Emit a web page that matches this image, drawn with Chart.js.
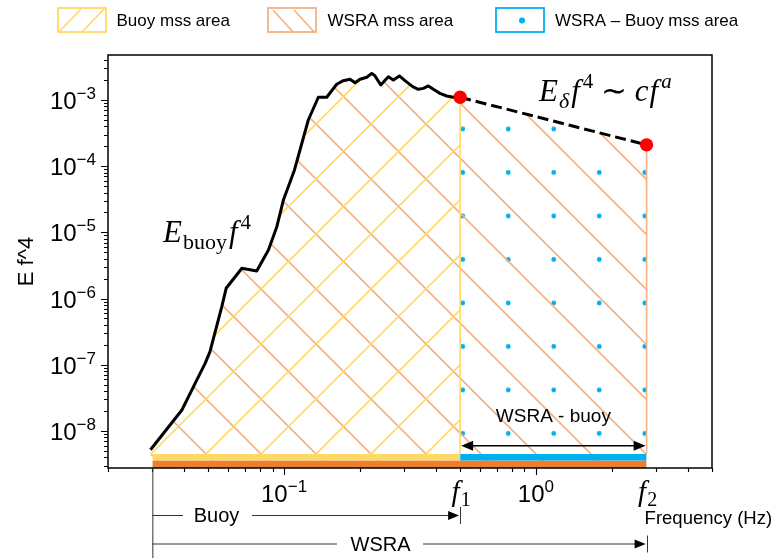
<!DOCTYPE html>
<html>
<head>
<meta charset="utf-8">
<script src="https://cdn.jsdelivr.net/npm/chart.js@4/dist/chart.umd.min.js"></script>
<style>
  html, body { margin: 0; padding: 0; background: #fff; }
  canvas { display: block; }
</style>
</head>
<body>
<canvas id="chart" width="779" height="558"></canvas>
<script>
// Buoy spectrum, E·f^4 against frequency (Hz)
const buoyFreq = [0.0295, 0.0393, 0.0437, 0.0486, 0.0508, 0.0566, 0.0589, 0.0680, 0.0779, 0.0867,
                  0.0936, 0.0994, 0.110, 0.1248, 0.1368, 0.1477, 0.1618, 0.1719, 0.1828, 0.1914,
                  0.2003, 0.2131, 0.2230, 0.2297, 0.2420, 0.2594, 0.2716, 0.2869, 0.3020, 0.3241,
                  0.3412, 0.3572, 0.3740, 0.3914, 0.4159, 0.4424, 0.4697, 0.5];
const buoyEf4 = [5.2e-9, 2.07e-8, 4.67e-8, 1.05e-7, 1.58e-7, 7.55e-7, 1.43e-6, 2.87e-6, 2.61e-6, 5.42e-6,
                 1.22e-5, 3.08e-5, 8.77e-5, 4.99e-4, 1.10e-3, 1.10e-3, 1.73e-3, 1.96e-3, 2.06e-3, 1.82e-3,
                 2.06e-3, 2.21e-3, 2.53e-3, 2.31e-3, 1.69e-3, 2.25e-3, 2.00e-3, 2.31e-3, 1.96e-3, 1.59e-3,
                 1.45e-3, 1.50e-3, 1.63e-3, 1.45e-3, 1.26e-3, 1.15e-3, 1.10e-3, 1.10e-3];
// power-law tail between f1 and f2
const tailFreq = [0.5, 2.75];
const tailEf4 = [1.1e-3, 2.1e-4];
// integration limits
const lowFreq = 0.03;
const limitNames = ['1', '2'];           // subscripts of f1, f2
// axis decades that carry labels
const xDecades = [-1, 0];
const yDecades = [-8, -7, -6, -5, -4, -3];
const legendNames = ['Buoy mss area', 'WSRA mss area', 'WSRA \u2013 Buoy mss area'];

// axis limits and band levels
const X_MIN = 0.02, X_MAX = 5;
const Y_MIN = Math.pow(10, -8.56), Y_MAX = Math.pow(10, -2.32);
const BAND_TOP = 4.5e-9, BAND_MID = 3.56e-9;

const YELLOW = '#FFD966', SALMON = '#F4B183', ORANGE = '#ED7D31', BLUE = '#00B0F0';
const SANS = "'Liberation Sans', Arial, Helvetica, sans-serif";
const SERIF = "'Liberation Serif', 'Times New Roman', serif";

const canvas = document.getElementById('chart');
const ctx = canvas.getContext('2d');

function hatch(color, dir, size, shift) {
  const c = document.createElement('canvas');
  c.width = size; c.height = size;
  const g = c.getContext('2d');
  g.strokeStyle = color; g.lineWidth = 1.6;
  g.beginPath();
  for (let k = -1; k <= 1; k++) {
    if (dir === '/') { g.moveTo(k * size - 2, size + 2); g.lineTo(k * size + size + 2, -2); }
    else { g.moveTo(k * size - 2, -2); g.lineTo(k * size + size + 2, size + 2); }
  }
  g.stroke();
  const p = ctx.createPattern(c, 'repeat');
  p.setTransform(new DOMMatrix().translate(shift, 0));
  return p;
}

function dots(color, sx, sy, ox, oy) {
  const c = document.createElement('canvas');
  c.width = Math.round(sx * 2); c.height = Math.round(sy * 2);
  const g = c.getContext('2d');
  g.fillStyle = color;
  for (const [cx, cy] of [[sx / 2, sy / 2], [sx * 1.5, sy / 2], [sx / 2, sy * 1.5], [sx * 1.5, sy * 1.5]]) {
    g.beginPath(); g.arc(cx, cy, 2.4, 0, Math.PI * 2); g.fill();
  }
  const p = ctx.createPattern(c, 'repeat');
  p.setTransform(new DOMMatrix().translate(ox - sx / 2, oy - sy / 2));
  return p;
}

const yellowHatch = hatch(YELLOW, '/', 55, 0);
const salmonHatch = hatch(SALMON, '\\', 55, 27);
const blueDots = dots(BLUE, 45.5, 43.5, 462.7, 129);

const pts = (xs, ys) => xs.map((v, i) => ({ x: v, y: ys[i] }));
const buoyPts = pts(buoyFreq, buoyEf4);
const tailPts = pts(tailFreq, tailEf4);
const f1 = tailFreq[0], f2 = tailFreq[1];

const base = { pointRadius: 0, borderWidth: 0, borderColor: 'rgba(0,0,0,0)', tension: 0 };

const datasets = [
  { ...base, label: 'end points', data: tailPts, showLine: false, pointRadius: 6.7,
    pointBackgroundColor: '#FF0000', pointBorderWidth: 0, order: 0 },
  { ...base, label: 'buoy', data: buoyPts, borderColor: '#000', borderWidth: 3,
    borderJoinStyle: 'round', order: 1 },
  { ...base, label: 'tail', data: tailPts, borderColor: '#000', borderWidth: 3,
    borderDash: [11, 5], order: 1 },
  { ...base, label: 'f1 edge', data: [{ x: f1, y: BAND_TOP }, { x: f1, y: tailEf4[0] }],
    borderColor: YELLOW, borderWidth: 1.6, order: 2 },
  { ...base, label: 'f2 edge', data: [{ x: f2, y: BAND_TOP }, { x: f2, y: tailEf4[1] }],
    borderColor: SALMON, borderWidth: 1.6, order: 2 },
  { ...base, label: 'buoy band', data: [{ x: lowFreq, y: BAND_TOP }, { x: f1, y: BAND_TOP }],
    fill: { value: BAND_MID }, backgroundColor: YELLOW, order: 3 },
  { ...base, label: 'gap band', data: [{ x: f1, y: BAND_TOP }, { x: f2, y: BAND_TOP }],
    fill: { value: BAND_MID }, backgroundColor: BLUE, order: 3 },
  { ...base, label: 'wsra band', data: [{ x: lowFreq, y: BAND_MID }, { x: f2, y: BAND_MID }],
    fill: 'start', backgroundColor: ORANGE, order: 3 },
  { ...base, label: legendNames[0], data: buoyPts, fill: 'start', backgroundColor: yellowHatch, order: 4 },
  { ...base, label: legendNames[1], data: buoyPts.concat([tailPts[1]]), fill: 'start',
    backgroundColor: salmonHatch, order: 5 },
  { ...base, label: legendNames[2], data: tailPts, fill: 'start', backgroundColor: blueDots, order: 6 }
];

function runs(c, x, y, parts) {
  for (const p of parts) {
    c.font = p.f;
    c.fillText(p.t, x, y + (p.dy || 0));
    x += c.measureText(p.t).width + (p.gap || 0);
  }
  return x;
}
function runsWidth(c, parts) {
  let w = 0;
  for (const p of parts) { c.font = p.f; w += c.measureText(p.t).width + (p.gap || 0); }
  return w;
}
function arrowHead(c, x, y, dir, len, half) {
  c.beginPath();
  c.moveTo(x, y);
  c.lineTo(x - dir * len, y - half);
  c.lineTo(x - dir * len, y + half);
  c.closePath();
  c.fill();
}

const decorations = {
  id: 'decorations',
  afterDatasetsDraw(chart) {
    const { ctx: c, chartArea: a, scales: { x, y } } = chart;
    const X = v => x.getPixelForValue(v), Y = v => y.getPixelForValue(v);
    c.save();
    c.fillStyle = '#000'; c.strokeStyle = '#000';

    // frame
    c.lineWidth = 1.5;
    c.strokeRect(a.left, a.top, a.right - a.left, a.bottom - a.top);

    // tick marks
    c.lineWidth = 1.1;
    c.beginPath();
    for (let d = -2; d <= 0; d++) for (let m = 1; m <= 9; m++) {
      const v = m * Math.pow(10, d);
      if (v < X_MIN * 0.999 || v > X_MAX * 1.001) continue;
      const px = Math.round(X(v)) + 0.5, len = m === 1 ? 7 : 4;
      c.moveTo(px, a.bottom); c.lineTo(px, a.bottom + len);
    }
    for (let d = -9; d <= -3; d++) for (let m = 1; m <= 9; m++) {
      const v = m * Math.pow(10, d);
      if (v < Y_MIN || v > Y_MAX) continue;
      const py = Math.round(Y(v)) + 0.5, len = m === 1 ? 7 : 4;
      c.moveTo(a.left, py); c.lineTo(a.left - len, py);
    }
    c.stroke();

    // decade labels
    const big = '24px ' + SANS, sup = '17px ' + SANS;
    c.textBaseline = 'alphabetic'; c.textAlign = 'left';
    for (const d of xDecades) {
      const parts = [{ t: '10', f: big }, { t: (d < 0 ? '\u2212' : '') + Math.abs(d), f: sup, dy: -10 }];
      const w = runsWidth(c, parts);
      runs(c, X(Math.pow(10, d)) - w / 2, a.bottom + 34, parts);
    }
    for (const d of yDecades) {
      const parts = [{ t: '10', f: big }, { t: '\u2212' + Math.abs(d), f: sup, dy: -10 }];
      const w = runsWidth(c, parts);
      runs(c, a.left - 12 - w, Y(Math.pow(10, d)) + 9, parts);
    }

    // f1, f2 labels
    [f1, f2].forEach((f, i) => {
      const parts = [{ t: 'f', f: 'italic 29px ' + SERIF, gap: 1 }, { t: limitNames[i], f: '20px ' + SERIF, dy: 5 }];
      const w = runsWidth(c, parts);
      runs(c, X(f) - w / 2 + 1, a.bottom + 33, parts);
    });

    // axis titles
    c.font = '18.5px ' + SANS;
    c.fillText('Frequency (Hz)', X(f2) - 2, a.bottom + 56);
    c.save();
    c.translate(27, (a.top + a.bottom) / 2);
    c.rotate(-Math.PI / 2);
    c.textAlign = 'center'; c.textBaseline = 'middle';
    c.font = '22px ' + SANS;
    c.fillText('E f^4', 0, 0);
    c.restore();

    // curve annotations
    runs(c, 163, 242, [
      { t: 'E', f: 'italic 31px ' + SERIF, gap: 1 },
      { t: 'buoy', f: '22px ' + SERIF, dy: 7, gap: 2 },
      { t: 'f', f: 'italic 31px ' + SERIF, gap: 3 },
      { t: '4', f: '21px ' + SERIF, dy: -13 }
    ]);
    runs(c, 539, 101, [
      { t: 'E', f: 'italic 31px ' + SERIF, gap: 1 },
      { t: '\u03B4', f: 'italic 22px ' + SERIF, dy: 7, gap: 2 },
      { t: 'f', f: 'italic 31px ' + SERIF, gap: 3 },
      { t: '4', f: '21px ' + SERIF, dy: -13 },
      { t: ' \u223C ', f: '31px ' + SERIF },
      { t: 'c', f: 'italic 31px ' + SERIF, gap: 1 },
      { t: 'f', f: 'italic 31px ' + SERIF, gap: 3 },
      { t: 'a', f: 'italic 21px ' + SERIF, dy: -13 }
    ]);

    // WSRA - buoy span
    const yA = 445.7;
    c.lineWidth = 1.5;
    c.beginPath(); c.moveTo(X(f1) + 8, yA); c.lineTo(X(f2) - 8, yA); c.stroke();
    arrowHead(c, X(f1) + 1, yA, -1, 12, 5);
    arrowHead(c, X(f2) - 1, yA, 1, 12, 5);
    c.font = '19px ' + SANS; c.textAlign = 'center';
    c.fillText('WSRA - buoy', (X(f1) + X(f2)) / 2, 421.5);

    // integration ranges below the axis
    const x0 = X(lowFreq);
    c.strokeStyle = '#333'; c.fillStyle = '#000'; c.lineWidth = 1;
    c.beginPath(); c.moveTo(x0 + 0.5, a.bottom); c.lineTo(x0 + 0.5, 558); c.stroke();
    const ranges = [
      { label: 'Buoy', end: X(f1), yy: 515, cx: 216.5, gap: [183, 252] },
      { label: 'WSRA', end: X(f2), yy: 543.5, cx: 380.5, gap: [337, 423] }
    ];
    for (const r of ranges) {
      c.beginPath();
      c.moveTo(x0, r.yy + 0.5); c.lineTo(r.gap[0], r.yy + 0.5);
      c.moveTo(r.gap[1], r.yy + 0.5); c.lineTo(r.end - 8, r.yy + 0.5);
      c.moveTo(Math.round(r.end) + 0.5, r.yy - 8); c.lineTo(Math.round(r.end) + 0.5, r.yy + 9);
      c.stroke();
      arrowHead(c, r.end - 1, r.yy + 0.5, 1, 11, 4.5);
      c.font = '20px ' + SANS; c.textAlign = 'center';
      c.fillText(r.label, r.cx, r.yy + 7);
    }
    c.textAlign = 'left';

    // legend
    const boxes = [58, 268, 496], texts = [116.5, 327.5, 555];
    const bw = 48, bh = 24, by = 8;
    c.font = '17px ' + SANS;
    boxes.forEach((bx, i) => {
      c.save();
      c.beginPath(); c.rect(bx, by, bw, bh); c.clip();
      c.lineWidth = 1.6;
      if (i === 0) {
        c.strokeStyle = YELLOW; c.beginPath();
        c.moveTo(bx + 1, by + bh); c.lineTo(bx + 24, by);
        c.moveTo(bx + 24, by + bh); c.lineTo(bx + 47, by);
        c.stroke();
      } else if (i === 1) {
        c.strokeStyle = SALMON; c.beginPath();
        c.moveTo(bx + 5, by + 2); c.lineTo(bx + 27, by + bh + 2);
        c.moveTo(bx + 26, by + 2); c.lineTo(bx + 48, by + bh + 2);
        c.stroke();
      } else {
        c.fillStyle = BLUE; c.beginPath();
        c.arc(bx + bw / 2 + 2, by + bh / 2 + 0.5, 3, 0, Math.PI * 2); c.fill();
      }
      c.restore();
      c.lineWidth = 1.8;
      c.strokeStyle = [YELLOW, SALMON, BLUE][i];
      c.strokeRect(bx, by, bw, bh);
      c.fillStyle = '#000';
      c.fillText(legendNames[i], texts[i], 25.5);
    });

    c.restore();
  }
};

new Chart(ctx, {
  type: 'line',
  data: { datasets },
  options: {
    responsive: false,
    animation: false,
    events: [],
    devicePixelRatio: 1,
    layout: { padding: { left: 108, right: 67, top: 55, bottom: 90 } },
    scales: {
      x: { type: 'logarithmic', min: X_MIN, max: X_MAX, display: false },
      y: { type: 'logarithmic', min: Y_MIN, max: Y_MAX, display: false }
    },
    plugins: {
      legend: { display: false },
      tooltip: { enabled: false },
      filler: { propagate: false }
    }
  },
  plugins: [decorations]
});
</script>
</body>
</html>
